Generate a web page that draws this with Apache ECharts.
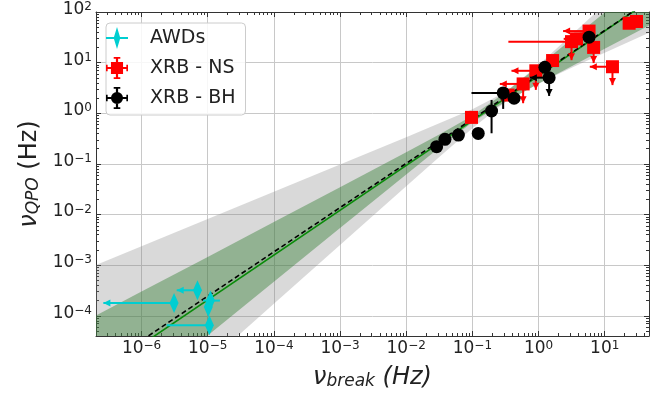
<!DOCTYPE html>
<html>
<head>
<meta charset="utf-8">
<script src="https://cdn.jsdelivr.net/npm/echarts@6/dist/echarts.min.js"></script>
<style>
  html, body { margin: 0; padding: 0; background: #fff; }
  #chart { width: 665px; height: 395px; }
</style>
</head>
<body>
<div id="chart"></div>
<script>
// axis ranges and decade ticks
const xMin = 2.05e-7, xMax = 46.7;
const yMin = 4e-5, yMax = 100;
const xMajor = [1e-6, 1e-5, 1e-4, 1e-3, 1e-2, 1e-1, 1, 10];
const yMajor = [1e-4, 1e-3, 1e-2, 1e-1, 1, 10, 100];

// AWDs (cyan)
const awdX    = [7.0e-6, 3.1e-6, 1.1e-5, 1.02e-5, 1.06e-5];
const awdY    = [3.2e-4, 1.8e-4, 2.0e-4, 1.5e-4, 6.5e-5];
const awdXLo  = [3.4e-6, 2.65e-7, 8.5e-6, null, 2.4e-6];
const awdXHi  = [null, null, 1.53e-5, null, null];
const awdXLim = [1, 1, 0, 0, 0];

// XRB - NS (red)
const nsX    = [0.097, 0.347, 0.585, 0.91, 1.63, 3.15, 3.75, 5.8, 6.8, 13.1, 23.4, 30.2];
const nsY    = [0.83, 2.29, 3.8, 6.9, 11, 26, 29.5, 42, 20, 8.3, 60, 65];
const nsXLo  = [null, null, 0.26, 0.39, null, 0.35, 2.4, 2.35, null, 5.95, null, null];
const nsYLo  = [null, null, 1.58, 2.9, null, 11.2, null, null, 9.8, 3.6, null, null];
const nsXLim = [0, 0, 1, 1, 0, 0, 1, 1, 0, 1, 0, 0];
const nsYLim = [0, 0, 1, 1, 0, 1, 0, 0, 1, 1, 0, 0];

// XRB - BH (black)
const bhX    = [0.0288, 0.0385, 0.0615, 0.1225, 0.195, 0.292, 0.427, 1.245, 1.445, 5.8];
const bhY    = [0.219, 0.306, 0.372, 0.40, 1.11, 2.52, 1.98, 8.1, 5.05, 31.8];
const bhXLo  = [null, null, null, null, null, 0.097, null, null, 0.74, null];
const bhYLo  = [null, null, null, null, 0.403, 1.22, null, null, 2.2, null];
const bhYHi  = [null, null, null, null, 1.83, null, null, null, null, null];
const bhXLim = [0, 0, 0, 0, 0, 0, 0, 0, 1, 0];
const bhYLim = [0, 0, 0, 0, 0, 0, 0, 0, 1, 0];

// fit lines (end points)
const fitDashed = [[2e-7, 8.0e-6], [50, 175.8]];
const fitGreen  = [[2e-7, 6.46e-6], [50, 175.6]];

// confidence bands
const bandX   = [2e-7, 1e-6, 1e-5, 1e-4, 1e-3, 1e-2, 0.0316, 0.1, 0.316, 1, 3.16, 10, 50];
const grayHi  = [1.0e-3, 2.38e-3, 8.19e-3, 0.0282, 0.0973, 0.337, 0.632, 1.206, 2.64, 9.03, 35.4, 141, 989];
const grayLo  = [1.26e-7, 8.22e-7, 1.19e-5, 1.73e-4, 2.51e-3, 0.0362, 0.1365, 0.505, 1.666, 3.885, 7.89, 15.68, 40.6];
const greenHi = [9.96e-5, 3.01e-4, 1.46e-3, 7.11e-3, 0.0346, 0.1695, 0.379, 0.889, 2.606, 8.62, 29.0, 98.2, 542];
const greenLo = [6.43e-7, 3.56e-6, 4.10e-5, 4.72e-4, 5.43e-3, 0.0621, 0.2078, 0.663, 1.691, 3.822, 8.49, 18.78, 56.9];

const FONT = 'DejaVu Sans';
const ink = '#222';

function minorTicks(lo, hi) {
  const out = [];
  for (let e = -8; e <= 2; e++) {
    for (let m = 2; m <= 9; m++) {
      const v = m * Math.pow(10, e);
      if (v > lo && v < hi) out.push(v);
    }
  }
  return out;
}
const xMinor = minorTicks(xMin, xMax);
const yMinor = minorTicks(yMin, yMax);

function powLabel(v) {
  const e = Math.round(Math.log10(v));
  return '{b|10}{e|' + String(e).replace('-', '\u2212') + '}';
}
const tickRich = {
  b: { fontSize: 17, fontFamily: FONT, color: ink, verticalAlign: 'top', lineHeight: 22 },
  e: { fontSize: 12, fontFamily: FONT, color: ink, verticalAlign: 'top', lineHeight: 8 }
};

function bandRender(lo, hi, fill) {
  return function (params, api) {
    const pts = [];
    for (let i = 0; i < bandX.length; i++) pts.push(api.coord([bandX[i], hi[i]]));
    for (let i = bandX.length - 1; i >= 0; i--) pts.push(api.coord([bandX[i], lo[i]]));
    return { type: 'polygon', shape: { points: pts }, style: { fill: fill } };
  };
}

function arrow(x, y, dir, color) {
  const s = 7, h = 3.5;
  const pts = dir === 'left'
    ? [[x, y], [x + s, y - h], [x + s, y + h]]
    : [[x, y], [x - h, y - s], [x + h, y - s]];
  return { type: 'polygon', shape: { points: pts }, style: { fill: color } };
}

function errRender(e, color) {
  return function (params, api) {
    const i = params.dataIndex;
    const x = api.value(0), y = api.value(1);
    const p = api.coord([x, y]);
    const st = { stroke: color, lineWidth: 2 };
    const kids = [];
    if (e.xLo && e.xLo[i] != null) {
      const q = api.coord([e.xLo[i], y]);
      kids.push({ type: 'line', shape: { x1: q[0], y1: p[1], x2: p[0], y2: p[1] }, style: st });
      if (e.xLim && e.xLim[i]) kids.push(arrow(q[0], p[1], 'left', color));
    }
    if (e.xHi && e.xHi[i] != null) {
      const q = api.coord([e.xHi[i], y]);
      kids.push({ type: 'line', shape: { x1: p[0], y1: p[1], x2: q[0], y2: p[1] }, style: st });
    }
    if (e.yLo && e.yLo[i] != null) {
      const q = api.coord([x, e.yLo[i]]);
      kids.push({ type: 'line', shape: { x1: p[0], y1: p[1], x2: p[0], y2: q[1] }, style: st });
      if (e.yLim && e.yLim[i]) kids.push(arrow(p[0], q[1], 'down', color));
    }
    if (e.yHi && e.yHi[i] != null) {
      const q = api.coord([x, e.yHi[i]]);
      kids.push({ type: 'line', shape: { x1: p[0], y1: q[1], x2: p[0], y2: p[1] }, style: st });
    }
    return { type: 'group', children: kids };
  };
}

function pairs(xs, ys) { return xs.map((v, i) => [v, ys[i]]); }

// legend icons (marker + error bar cross)
const crossBars = 'M1,10 H21 V12 H1 Z M10,1 H12 V21 H10 Z M8,1 H14 V2.5 H8 Z M8,19.5 H14 V21 H8 Z M1,8 H2.5 V14 H1 Z M19.5,8 H21 V14 H19.5 Z';
const iconAWD = 'path://M11,1 L14,11 L11,21 L8,11 Z M1,10 H21 V12 H1 Z';
const iconNS = 'path://M5.5,5.5 H16.5 V16.5 H5.5 Z ' + crossBars;
const iconBH = 'path://M16.5,11 A5.5,5.5 0 1 1 5.5,11 A5.5,5.5 0 1 1 16.5,11 Z ' + crossBars;

const gridRect = { left: 96, right: 16, top: 12, bottom: 59 };
const frame = { show: true, lineStyle: { color: '#333', width: 1 } };

function minorX(pos, ticks) {
  return {
    type: 'log', gridIndex: 1, position: pos, min: xMin, max: xMax,
    axisLine: { show: false }, axisLabel: { show: false }, splitLine: { show: false },
    axisTick: { show: true, inside: true, length: 3, customValues: ticks, lineStyle: { color: '#333' } }
  };
}
function minorY(pos, ticks) {
  return {
    type: 'log', gridIndex: 1, position: pos, min: yMin, max: yMax,
    axisLine: { show: false }, axisLabel: { show: false }, splitLine: { show: false },
    axisTick: { show: true, inside: true, length: 3, customValues: ticks, lineStyle: { color: '#333' } }
  };
}

const chart = echarts.init(document.getElementById('chart'), null, { renderer: 'canvas' });

const option = {
  animation: false,
  backgroundColor: '#fff',
  grid: [Object.assign({}, gridRect), Object.assign({}, gridRect)],
  legend: {
    orient: 'vertical', left: 106, top: 23,
    padding: [4, 10, 6, 0],
    itemWidth: 56, itemHeight: 22, itemGap: 8,
    backgroundColor: 'rgba(255,255,255,0.85)',
    borderColor: '#cccccc', borderWidth: 1, borderRadius: 4,
    textStyle: { fontFamily: FONT, fontSize: 19, color: ink },
    data: [
      { name: 'AWDs', icon: iconAWD },
      { name: 'XRB - NS', icon: iconNS },
      { name: 'XRB - BH', icon: iconBH }
    ]
  },
  xAxis: [
    {
      type: 'log', gridIndex: 0, position: 'bottom', min: xMin, max: xMax,
      axisLine: frame,
      axisTick: { show: true, inside: true, length: 5, customValues: xMajor, lineStyle: { color: '#333' } },
      axisLabel: { customValues: xMajor, formatter: powLabel, rich: tickRich, margin: 4 },
      splitLine: { show: true, lineStyle: { color: '#c8c8c8', width: 1 } },
      name: '{i|\u03bd}{s|break}{i| (Hz)}',
      nameLocation: 'middle', nameGap: 24,
      nameTextStyle: {
        rich: {
          i: { fontSize: 24, fontStyle: 'italic', fontFamily: FONT, color: ink, verticalAlign: 'bottom', lineHeight: 30 },
          s: { fontSize: 17, fontStyle: 'italic', fontFamily: FONT, color: ink, verticalAlign: 'bottom', lineHeight: 14 }
        }
      }
    },
    {
      type: 'log', gridIndex: 0, position: 'top', min: xMin, max: xMax,
      axisLine: frame, axisLabel: { show: false }, splitLine: { show: false },
      axisTick: { show: true, inside: true, length: 5, customValues: xMajor, lineStyle: { color: '#333' } }
    },
    minorX('bottom', xMinor),
    minorX('top', xMinor)
  ],
  yAxis: [
    {
      type: 'log', gridIndex: 0, position: 'left', min: yMin, max: yMax,
      axisLine: frame,
      axisTick: { show: true, inside: true, length: 5, customValues: yMajor, lineStyle: { color: '#333' } },
      axisLabel: { customValues: yMajor, formatter: powLabel, rich: tickRich, margin: 4 },
      splitLine: { show: true, lineStyle: { color: '#c8c8c8', width: 1 } },
      name: '{i|\u03bd}{s|QPO}{n| (Hz)}',
      nameLocation: 'middle', nameGap: 44,
      nameTextStyle: {
        rich: {
          i: { fontSize: 24, fontStyle: 'italic', fontFamily: FONT, color: ink, verticalAlign: 'bottom', lineHeight: 30 },
          s: { fontSize: 17, fontStyle: 'italic', fontFamily: FONT, color: ink, verticalAlign: 'bottom', lineHeight: 14 },
          n: { fontSize: 24, fontFamily: FONT, color: ink, verticalAlign: 'bottom', lineHeight: 30 }
        }
      }
    },
    {
      type: 'log', gridIndex: 0, position: 'right', min: yMin, max: yMax,
      axisLine: frame, axisLabel: { show: false }, splitLine: { show: false },
      axisTick: { show: true, inside: true, length: 5, customValues: yMajor, lineStyle: { color: '#333' } }
    },
    minorY('left', yMinor),
    minorY('right', yMinor)
  ],
  series: [
    {
      type: 'custom', name: 'band-gray', xAxisIndex: 0, yAxisIndex: 0, z: 1, clip: true, silent: true,
      renderItem: bandRender(grayLo, grayHi, 'rgba(128,128,128,0.3)'), data: [[1, 1]]
    },
    {
      type: 'custom', name: 'band-green', xAxisIndex: 0, yAxisIndex: 0, z: 2, clip: true, silent: true,
      renderItem: bandRender(greenLo, greenHi, 'rgba(40,120,40,0.4)'), data: [[1, 1]]
    },
    {
      type: 'line', name: 'fit', z: 3, data: fitGreen, symbol: 'none', clip: true,
      lineStyle: { color: '#0a8a0a', width: 1.6 }
    },
    {
      type: 'line', name: 'fit2', z: 3, data: fitDashed, symbol: 'none', clip: true,
      lineStyle: { color: '#000', width: 1.6, type: [5, 3] }
    },
    {
      type: 'custom', name: 'awd-err', z: 4, clip: true,
      renderItem: errRender({ xLo: awdXLo, xHi: awdXHi, xLim: awdXLim }, '#00ced1'),
      data: pairs(awdX, awdY)
    },
    {
      type: 'scatter', name: 'AWDs', z: 5, data: pairs(awdX, awdY),
      symbol: 'path://M5,0 L10,10 L5,20 L0,10 Z', symbolSize: [9, 20],
      itemStyle: { color: '#00ced1', opacity: 1 }
    },
    {
      type: 'custom', name: 'ns-err', z: 6, clip: true,
      renderItem: errRender({ xLo: nsXLo, yLo: nsYLo, xLim: nsXLim, yLim: nsYLim }, '#ff0000'),
      data: pairs(nsX, nsY)
    },
    {
      type: 'scatter', name: 'XRB - NS', z: 7, data: pairs(nsX, nsY),
      symbol: 'rect', symbolSize: 13, itemStyle: { color: '#ff0000', opacity: 1 }
    },
    {
      type: 'custom', name: 'bh-err', z: 8, clip: true,
      renderItem: errRender({ xLo: bhXLo, yLo: bhYLo, yHi: bhYHi, xLim: bhXLim, yLim: bhYLim }, '#000000'),
      data: pairs(bhX, bhY)
    },
    {
      type: 'scatter', name: 'XRB - BH', z: 9, data: pairs(bhX, bhY),
      symbol: 'circle', symbolSize: 13, itemStyle: { color: '#000000', opacity: 1 }
    }
  ]
};

chart.setOption(option);
</script>
</body>
</html>
